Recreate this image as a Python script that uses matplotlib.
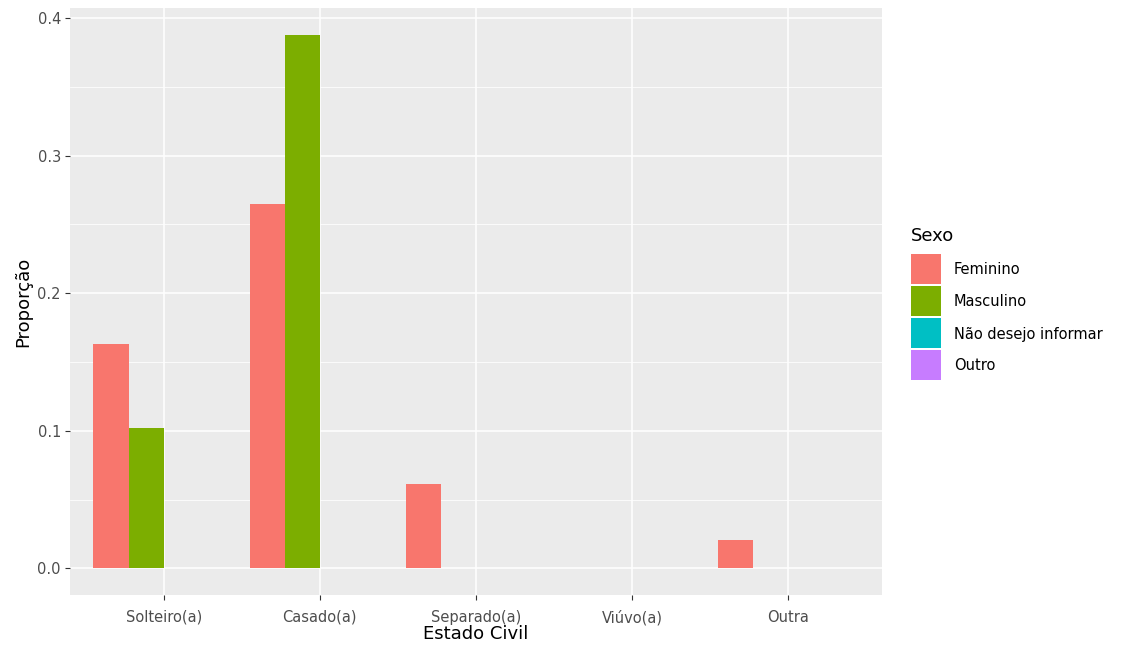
import matplotlib
matplotlib.use("Agg")
import matplotlib.pyplot as plt
from matplotlib.patches import Rectangle
import numpy as np

categories = ["Solteiro(a)", "Casado(a)", "Separado(a)", "Viúvo(a)", "Outra"]
sexes = ["Feminino", "Masculino", "Não desejo informar", "Outro"]
feminino = [0.163, 0.265, 0.061, 0.0, 0.0204]
masculino = [0.102, 0.388, 0.0, 0.0, 0.0]
nao_desejo = [0.0, 0.0, 0.0, 0.0, 0.0]
outro = [0.0, 0.0, 0.0, 0.0, 0.0]
series = [feminino, masculino, nao_desejo, outro]
colors = ["#F8766D", "#7CAE00", "#00BFC4", "#C77CFF"]
yticks = [0.0, 0.1, 0.2, 0.3, 0.4]
ytick_labels = ["0.0", "0.1", "0.2", "0.3", "0.4"]

plt.rcParams['font.family'] = ['DejaVu Sans']

W, H = 1123, 655
fig = plt.figure(figsize=(W / 100, H / 100), dpi=100)
ax = fig.add_axes([70 / W, 1 - 595 / H, (882 - 70) / W, (595 - 8) / H])
ax.set_facecolor("#EBEBEB")

x = np.arange(1, len(categories) + 1)
bw = 0.9 / len(sexes)
for j, (vals, c) in enumerate(zip(series, colors)):
    ax.bar(x + (j - 1.5) * bw, vals, width=bw, color=c, linewidth=0, zorder=3)

ymax = max(max(s) for s in series)
ax.set_xlim(0.4, len(categories) + 0.6)
ax.set_ylim(-0.05 * ymax, ymax * 1.05)

ax.set_yticks(yticks)
ax.set_yticklabels(ytick_labels)
ax.set_yticks([0.05, 0.15, 0.25, 0.35], minor=True)
ax.set_xticks(x)
ax.set_xticklabels(categories)

ax.grid(which="major", color="white", linewidth=1.1, zorder=1)
ax.grid(which="minor", axis="y", color="white", linewidth=0.55, zorder=1)
ax.set_axisbelow(True)
for s in ax.spines.values():
    s.set_visible(False)
ax.tick_params(axis="both", which="major", length=3.5, width=0.8, color="#333333",
               labelcolor="#4D4D4D", labelsize=10.5, pad=3)
ax.tick_params(axis="x", which="major", pad=7)
ax.tick_params(axis="both", which="minor", length=0)

ax.set_xlabel("Estado Civil", fontsize=13, color="black", labelpad=0)
ax.set_ylabel("Proporção", fontsize=13, color="black", labelpad=4)

# legend (ggplot-style)
fig.text(911 / W, 1 - 236 / H, "Sexo", fontsize=13, va="center", ha="left")
for k, (lab, c) in enumerate(zip(sexes, colors)):
    y0 = 254 + k * 32
    fig.patches.append(Rectangle((911 / W, 1 - (y0 + 30) / H), 30 / W, 30 / H,
                                 transform=fig.transFigure, facecolor=c,
                                 edgecolor="none"))
    fig.text(954 / W, 1 - (y0 + 16) / H, lab, fontsize=10.5, va="center", ha="left")

fig.savefig("out.png", dpi=100)
